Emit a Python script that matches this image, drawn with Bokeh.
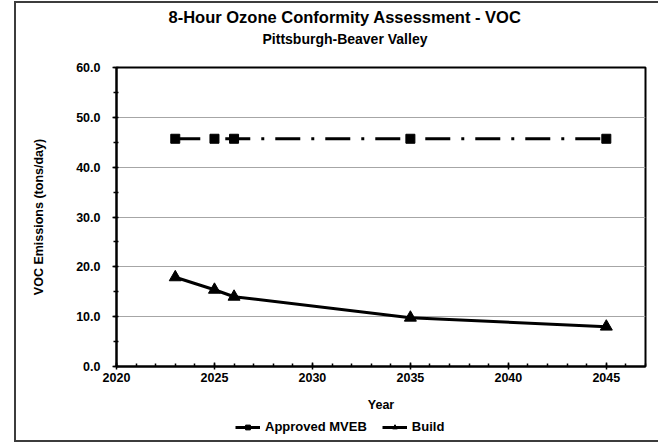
from bokeh.plotting import figure
from bokeh.layouts import column
from bokeh.models import (Range1d, SingleIntervalTicker, PrintfTickFormatter, Title,
                          Legend, LegendItem)
from bokeh.embed import file_html
from bokeh.resources import INLINE

years = [2023, 2025, 2026, 2035, 2045]
mveb = [45.7, 45.7, 45.7, 45.7, 45.7]
build = [17.9, 15.4, 14.0, 9.8, 8.0]
series_names = ["Approved MVEB", "Build"]

FONT = "Liberation Sans"

p = figure(width=642, height=413, output_backend="svg", toolbar_location=None,
           x_range=Range1d(2020, 2047), y_range=Range1d(0, 60),
           min_border_left=100, min_border_right=13, min_border_top=64, min_border_bottom=50)

# titles: spacer (closest to frame), subtitle, main title
p.add_layout(Title(text=" ", text_font_size="1px", standoff=17), "above")
p.add_layout(Title(text="Pittsburgh-Beaver Valley", align="left", offset=146,
                   text_font=FONT, text_font_size="14px", text_font_style="bold",
                   text_color="black", standoff=2), "above")
p.add_layout(Title(text="8-Hour Ozone Conformity Assessment - VOC", align="left", offset=52,
                   text_font=FONT, text_font_size="16.5px", text_font_style="bold",
                   text_color="black", standoff=4), "above")

p.outline_line_color = "black"
p.outline_line_width = 2
p.xgrid.visible = False
p.ygrid.grid_line_color = "#a6a6a6"
p.ygrid.grid_line_width = 1

p.xaxis.ticker = SingleIntervalTicker(interval=5, num_minor_ticks=5)
p.yaxis.ticker = SingleIntervalTicker(interval=10, num_minor_ticks=2)
p.yaxis.formatter = PrintfTickFormatter(format="%.1f")

for ax in (p.xaxis[0], p.yaxis[0]):
    ax.axis_line_color = "black"
    ax.axis_line_width = 2
    ax.major_tick_line_color = "black"
    ax.minor_tick_line_color = "black"
    ax.major_tick_line_width = 1.5
    ax.minor_tick_line_width = 1.5
    ax.major_label_text_font = FONT
    ax.major_label_text_font_size = "12.5px"
    ax.major_label_text_font_style = "bold"
    ax.major_label_text_color = "black"
    ax.axis_label_text_font = FONT
    ax.axis_label_text_font_size = "12.5px"
    ax.axis_label_text_font_style = "bold"
    ax.axis_label_text_color = "black"

p.xaxis.axis_label = "Year"
p.xaxis.major_tick_in = 4
p.xaxis.major_tick_out = 3
p.xaxis.minor_tick_in = 3
p.xaxis.minor_tick_out = 0
p.xaxis.major_label_standoff = 3
p.xaxis.axis_label_standoff = 13

p.yaxis.axis_label = "VOC Emissions (tons/day)"
p.yaxis.major_tick_in = 0
p.yaxis.major_tick_out = 4
p.yaxis.minor_tick_in = 2
p.yaxis.minor_tick_out = 3
p.yaxis.major_label_standoff = 12
p.yaxis.axis_label_standoff = 27

p.line(years, mveb, line_color="black", line_width=3, line_dash="25 11 3 11")
p.scatter(years, mveb, marker="square", size=9, fill_color="black", line_color="black")
p.line(years, build, line_color="black", line_width=3)
p.scatter(years, build, marker="triangle", size=12, fill_color="black", line_color="black")

# legend strip below the chart (series drawn out of view, only their legend glyphs show)
q = figure(width=642, height=24, output_backend="svg", toolbar_location=None,
           x_range=Range1d(0, 1), y_range=Range1d(0, 1),
           x_axis_location=None, y_axis_location=None,
           min_border_left=0, min_border_right=0, min_border_top=0, min_border_bottom=0)
q.outline_line_color = None
q.xgrid.visible = False
q.ygrid.visible = False
ql1 = q.line(years, mveb, line_color="black", line_width=3, line_dash="25 11 3 11")
qs1 = q.scatter(years, mveb, marker="square", size=9, fill_color="black", line_color="black")
ql2 = q.line(years, build, line_color="black", line_width=3)
qs2 = q.scatter(years, build, marker="triangle", size=12, fill_color="black", line_color="black")

legend = Legend(items=[LegendItem(label=series_names[0], renderers=[ql1, qs1]),
                       LegendItem(label=series_names[1], renderers=[ql2, qs2])],
                orientation="horizontal", location=(119, 6), margin=0, padding=2,
                spacing=15, label_standoff=5, glyph_width=25, glyph_height=12,
                label_height=12, border_line_color=None, background_fill_alpha=0,
                label_text_font=FONT, label_text_font_size="13px",
                label_text_font_style="bold", label_text_color="black")
q.add_layout(legend, "center")

layout = column(p, q, spacing=0)
layout.styles = {"margin-left": "14px", "margin-top": "1px",
                 "border-left": "2px solid #3c3c3c", "border-top": "2px solid #3c3c3c",
                 "border-bottom": "2px solid #3c3c3c"}

open("out.html", "w").write(file_html(layout, INLINE))
